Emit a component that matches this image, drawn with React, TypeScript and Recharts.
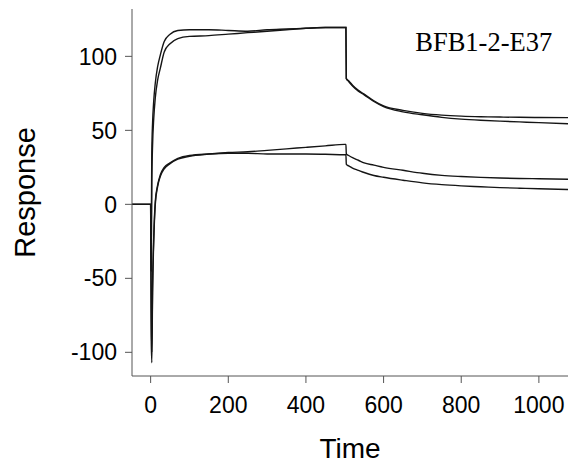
import { LineChart, Line, XAxis, YAxis, ReferenceDot } from 'recharts';

const times = [-48, -10, 0, 1.5, 3, 5, 8, 12, 18, 25, 35, 50, 70, 100, 150, 200, 250, 300, 350, 400, 450, 500, 503, 504, 510, 520, 535, 550, 575, 600, 650, 700, 750, 800, 850, 900, 950, 1000, 1075];

const highFast = [0, 0, 0, -20, 35, 55, 70, 82, 93, 101, 110, 115, 117.5, 118, 118, 117.5, 117, 118, 118.5, 119, 119.5, 119.5, 119.5, 85, 83.5, 80.5, 77, 74.5, 70, 66.5, 63.5, 61.5, 60.3, 59.6, 59.2, 59, 58.8, 58.7, 58.6];
const highSlow = [0, 0, 0, -45, 15, 40, 58, 72, 84, 92, 103, 108.5, 112, 113.5, 114, 115, 116, 117, 118, 119, 119.5, 119.5, 119.5, 85, 83, 80, 76.5, 74, 69.5, 66, 62.5, 60.5, 58.8, 57.6, 56.8, 56.2, 55.7, 55.2, 54.5];
const lowUpper = [0, 0, 0, -90, -107, -60, -25, 0, 12, 19, 24, 27.5, 30.5, 32.5, 34, 35, 35.5, 36.5, 37.5, 38.5, 39.5, 40.5, 40.5, 34, 33, 31.5, 29.8, 28, 26.5, 25, 23, 21, 19.6, 18.8, 18.2, 17.8, 17.5, 17.3, 17];
const lowLower = [0, 0, 0, -70, -100, -55, -22, 2, 13, 20, 25, 28, 31, 33, 34, 34.5, 34.5, 34, 34, 34, 33.8, 33.5, 33.5, 27, 26, 24.5, 23, 21.5, 19.5, 18.3, 16.3, 14.5, 13.3, 12.5, 11.9, 11.3, 10.9, 10.5, 10];

const xTicks = [0, 200, 400, 600, 800, 1000];
const yTicks = [-100, -50, 0, 50, 100];

const data = times.map((t, i) => ({ t, a: highFast[i], b: highSlow[i], c: lowUpper[i], d: lowLower[i] }));

const font = '"Liberation Sans", Arial, Helvetica, sans-serif';
const axisColor = '#555';
const lineColor = '#151515';

export default function App() {
  return (
    <div style={{ width: 568, height: 465, background: '#fff' }}>
      <style>{`body{margin:0;overflow:hidden;background:#fff}`}</style>
      <LineChart width={568} height={465} data={data} margin={{ top: 9, right: 0, bottom: 0, left: 0 }}>
        <XAxis
          dataKey="t"
          type="number"
          domain={[-48, 1075]}
          allowDataOverflow
          ticks={xTicks}
          height={89}
          tickSize={7}
          tickMargin={14}
          stroke={axisColor}
          tick={{ fill: '#000', fontSize: 23, fontFamily: font }}
          label={{ value: 'Time', position: 'insideBottom', offset: 7, fill: '#000', fontSize: 28, fontFamily: font }}
        />
        <XAxis
          xAxisId="top"
          orientation="top"
          dataKey="t"
          type="number"
          domain={[-48, 1075]}
          allowDataOverflow
          height={0}
          tick={false}
          tickLine={false}
          stroke={axisColor}
        />
        <YAxis
          type="number"
          domain={[-116, 132]}
          allowDataOverflow
          ticks={yTicks}
          width={132}
          tickSize={7}
          tickMargin={8}
          stroke={axisColor}
          tick={{ fill: '#000', fontSize: 23, fontFamily: font }}
          label={{ value: 'Response', angle: -90, position: 'insideLeft', offset: 25, fill: '#000', fontSize: 29, fontFamily: font, style: { textAnchor: 'middle' } }}
        />
        <Line type="monotone" dataKey="a" stroke={lineColor} strokeWidth={1.4} dot={false} isAnimationActive={false} />
        <Line type="monotone" dataKey="b" stroke={lineColor} strokeWidth={1.4} dot={false} isAnimationActive={false} />
        <Line type="monotone" dataKey="c" stroke={lineColor} strokeWidth={1.4} dot={false} isAnimationActive={false} />
        <Line type="monotone" dataKey="d" stroke={lineColor} strokeWidth={1.4} dot={false} isAnimationActive={false} />
        <ReferenceDot
          x={858}
          y={110}
          r={0}
          fill="none"
          stroke="none"
          label={{ value: 'BFB1-2-E37', position: 'center', fill: '#000', fontSize: 26.5, fontFamily: '"Liberation Serif", "Times New Roman", serif' }}
        />
      </LineChart>
    </div>
  );
}
